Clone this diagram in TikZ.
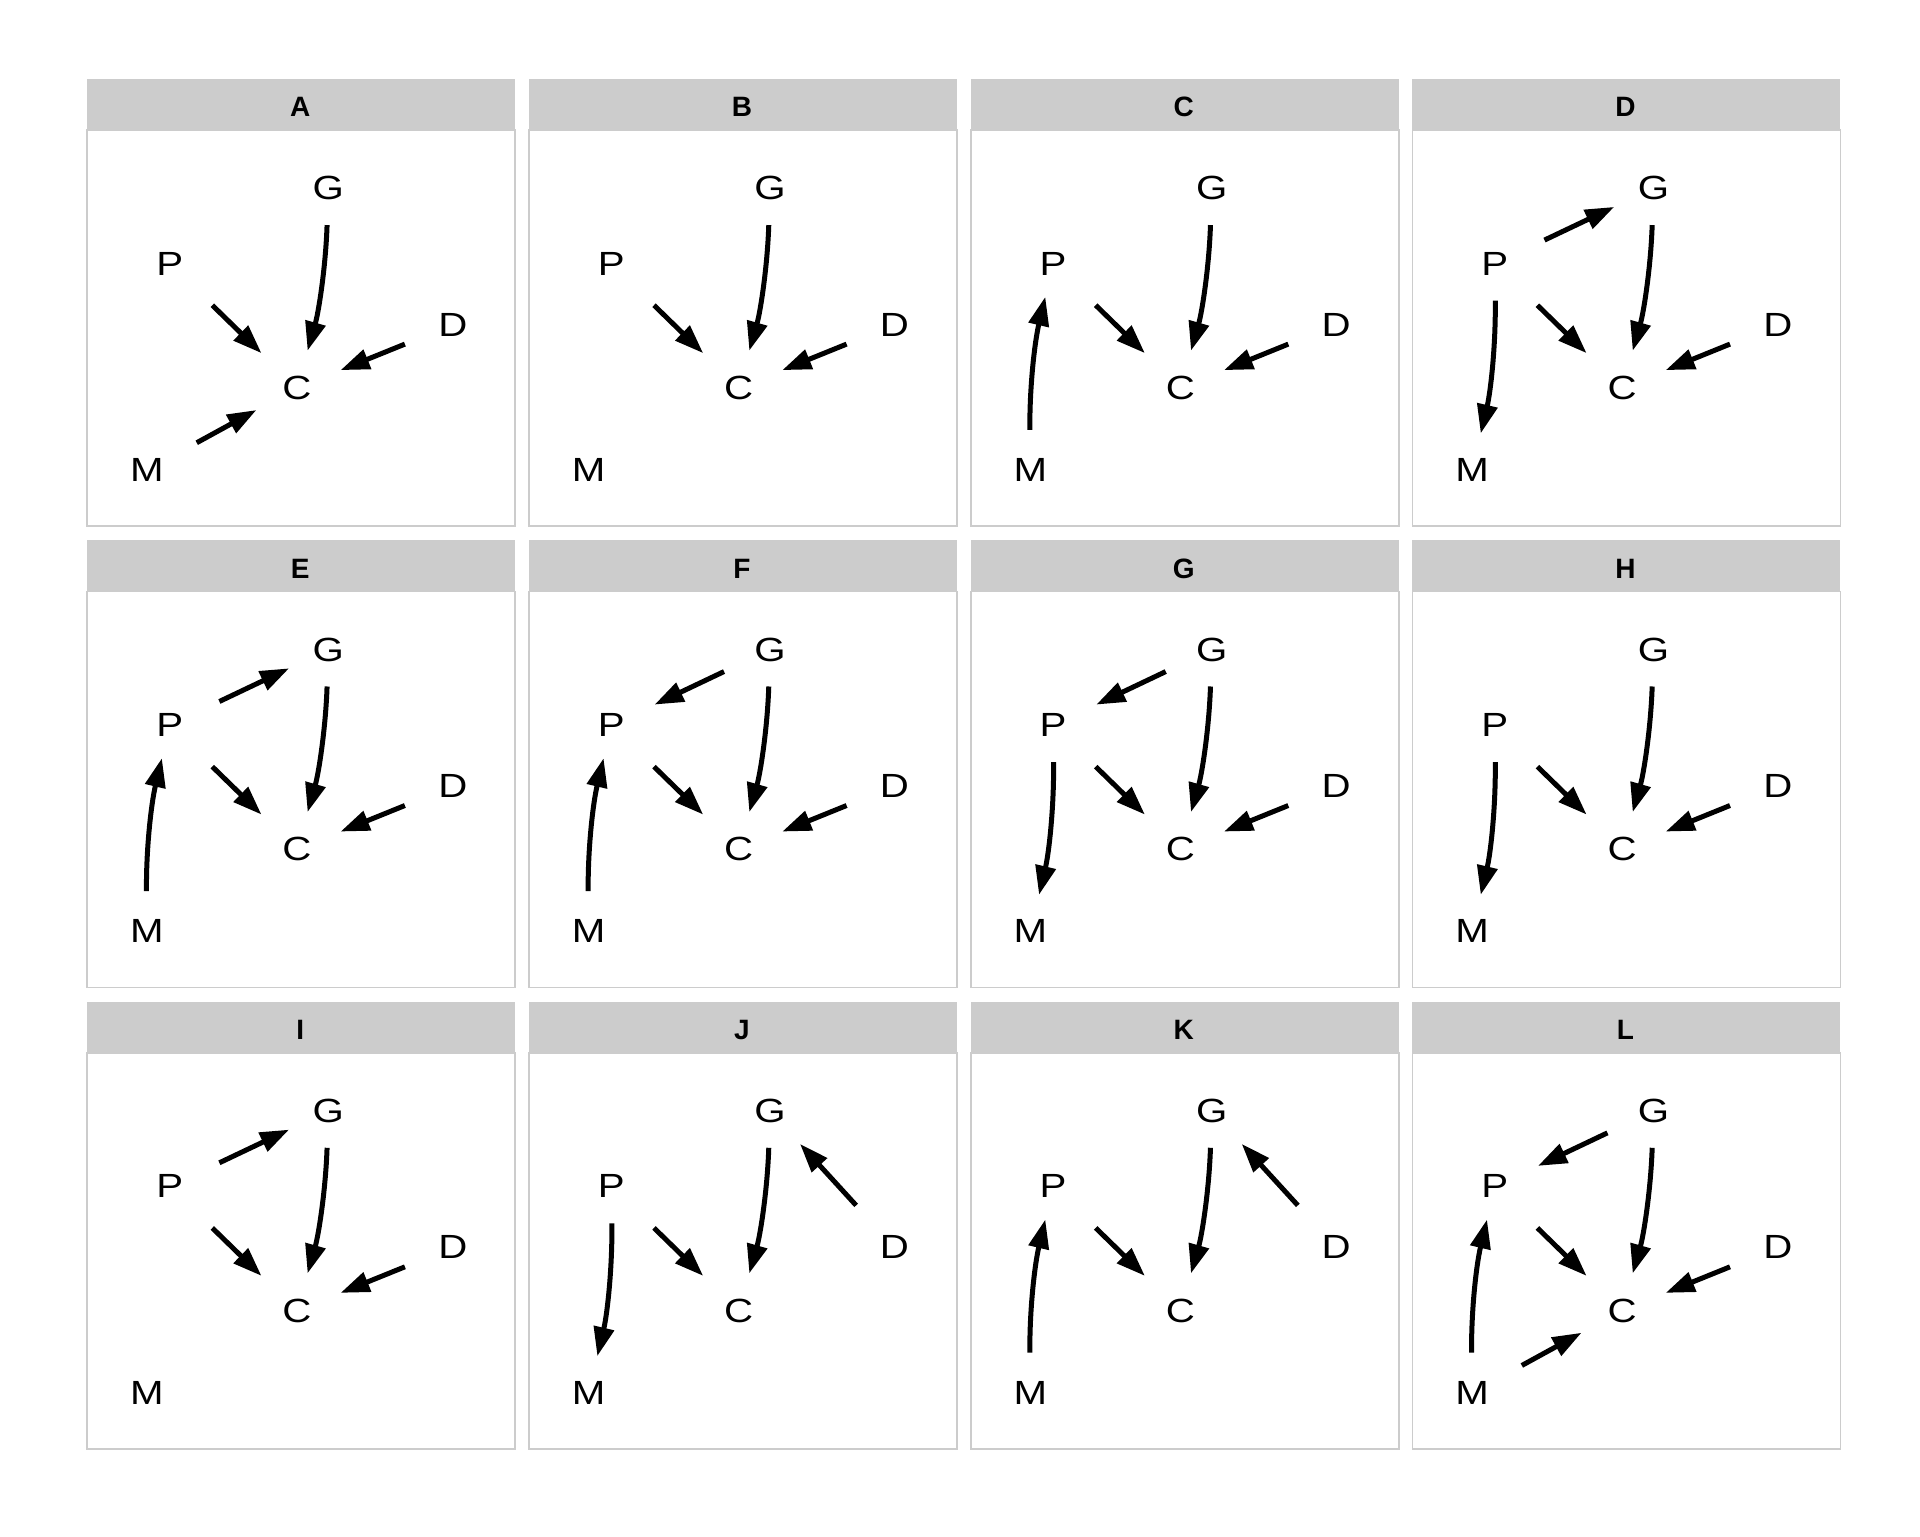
\documentclass[tikz,border=0pt]{standalone}
\usepackage{fontspec}
\setmainfont{Liberation Sans}
\usepackage{graphicx}
\usetikzlibrary{arrows.meta}
\definecolor{stripgray}{HTML}{CCCCCC}
\definecolor{bordergray}{HTML}{CCCCCC}
\newcommand\dagtxt[1]{\scalebox{1.2}[1]{#1}}
\newcommand\dagpanel[3]{%
  \begin{scope}[shift={(#2,-#3)}]
    \fill[stripgray] (0,0) rectangle (428,-51);
    \draw[panelborder] (0,-51) rectangle (428,-447);
    \node[striptext] (#1-hdr) at (213,-28) {#1};
    \node[lbl] (#1-G) at (241,-109.3) {\dagtxt{G}};
    \node[lbl] (#1-P) at (82.4,-184.7) {\dagtxt{P}};
    \node[lbl] (#1-D) at (365.5,-245.7) {\dagtxt{D}};
    \node[lbl] (#1-C) at (209.7,-308.8) {\dagtxt{C}};
    \node[lbl] (#1-M) at (59.7,-391) {\dagtxt{M}};
  \end{scope}}
\begin{document}
\begin{tikzpicture}[x=0.5pt,y=0.5pt,
  panelborder/.style={draw=bordergray, line width=0.85pt},
  striptext/.style={inner sep=0pt, font=\fontsize{14}{16}\selectfont\bfseries},
  lbl/.style={inner sep=0pt, font=\fontsize{16.76}{20}\selectfont},
  edge/.style={line width=2.5pt, -{Triangle[length=14.5pt,width=10pt]}},
  eGC/.style={edge, shorten <=18.4pt, shorten >=19.3pt, bend left=7},
  ePC/.style={edge, shorten <=29.75pt, shorten >=24.8pt},
  eDC/.style={edge, shorten <=25.85pt, shorten >=23.5pt},
  eMC/.style={edge, shorten <=28.35pt, shorten >=23.15pt},
  eMP/.style={edge, shorten <=20.1pt, shorten >=17pt, bend left=7},
  ePM/.style={edge, shorten <=18.5pt, shorten >=18.8pt, bend left=7},
  ePG/.style={edge, shorten <=27.5pt, shorten >=21.7pt},
  eGP/.style={edge, shorten <=25.45pt, shorten >=23.9pt},
  eDG/.style={edge, shorten <=28.45pt, shorten >=22.25pt}]
\useasboundingbox[fill=white] (0,0) rectangle (1920,-1536);
\dagpanel{A}{87.3}{79}
\dagpanel{B}{529.0}{79}
\dagpanel{C}{970.7}{79}
\dagpanel{D}{1412.4}{79}
\dagpanel{E}{87.3}{540.4}
\dagpanel{F}{529.0}{540.4}
\dagpanel{G}{970.7}{540.4}
\dagpanel{H}{1412.4}{540.4}
\dagpanel{I}{87.3}{1001.7}
\dagpanel{J}{529.0}{1001.7}
\dagpanel{K}{970.7}{1001.7}
\dagpanel{L}{1412.4}{1001.7}
% A
\draw[eGC] (A-G.center) to (A-C.center);
\draw[ePC] (A-P.center) -- (A-C.center);
\draw[eDC] (A-D.center) -- (A-C.center);
\draw[eMC] (A-M.center) -- (A-C.center);
% B
\draw[eGC] (B-G.center) to (B-C.center);
\draw[ePC] (B-P.center) -- (B-C.center);
\draw[eDC] (B-D.center) -- (B-C.center);
% C
\draw[eGC] (C-G.center) to (C-C.center);
\draw[ePC] (C-P.center) -- (C-C.center);
\draw[eDC] (C-D.center) -- (C-C.center);
\draw[eMP] (C-M.center) to (C-P.center);
% D
\draw[ePG] (D-P.center) -- (D-G.center);
\draw[eGC] (D-G.center) to (D-C.center);
\draw[ePC] (D-P.center) -- (D-C.center);
\draw[eDC] (D-D.center) -- (D-C.center);
\draw[ePM] (D-P.center) to (D-M.center);
% E
\draw[ePG] (E-P.center) -- (E-G.center);
\draw[eGC] (E-G.center) to (E-C.center);
\draw[ePC] (E-P.center) -- (E-C.center);
\draw[eDC] (E-D.center) -- (E-C.center);
\draw[eMP] (E-M.center) to (E-P.center);
% F
\draw[eGP] (F-G.center) -- (F-P.center);
\draw[eGC] (F-G.center) to (F-C.center);
\draw[ePC] (F-P.center) -- (F-C.center);
\draw[eDC] (F-D.center) -- (F-C.center);
\draw[eMP] (F-M.center) to (F-P.center);
% G
\draw[eGP] (G-G.center) -- (G-P.center);
\draw[eGC] (G-G.center) to (G-C.center);
\draw[ePC] (G-P.center) -- (G-C.center);
\draw[eDC] (G-D.center) -- (G-C.center);
\draw[ePM] (G-P.center) to (G-M.center);
% H
\draw[eGC] (H-G.center) to (H-C.center);
\draw[ePC] (H-P.center) -- (H-C.center);
\draw[eDC] (H-D.center) -- (H-C.center);
\draw[ePM] (H-P.center) to (H-M.center);
% I
\draw[ePG] (I-P.center) -- (I-G.center);
\draw[eGC] (I-G.center) to (I-C.center);
\draw[ePC] (I-P.center) -- (I-C.center);
\draw[eDC] (I-D.center) -- (I-C.center);
% J
\draw[eGC] (J-G.center) to (J-C.center);
\draw[ePC] (J-P.center) -- (J-C.center);
\draw[eDG] (J-D.center) -- (J-G.center);
\draw[ePM] (J-P.center) to (J-M.center);
% K
\draw[eGC] (K-G.center) to (K-C.center);
\draw[ePC] (K-P.center) -- (K-C.center);
\draw[eDG] (K-D.center) -- (K-G.center);
\draw[eMP] (K-M.center) to (K-P.center);
% L
\draw[eGP] (L-G.center) -- (L-P.center);
\draw[eGC] (L-G.center) to (L-C.center);
\draw[ePC] (L-P.center) -- (L-C.center);
\draw[eDC] (L-D.center) -- (L-C.center);
\draw[eMP] (L-M.center) to (L-P.center);
\draw[eMC] (L-M.center) -- (L-C.center);
\end{tikzpicture}
\end{document}
